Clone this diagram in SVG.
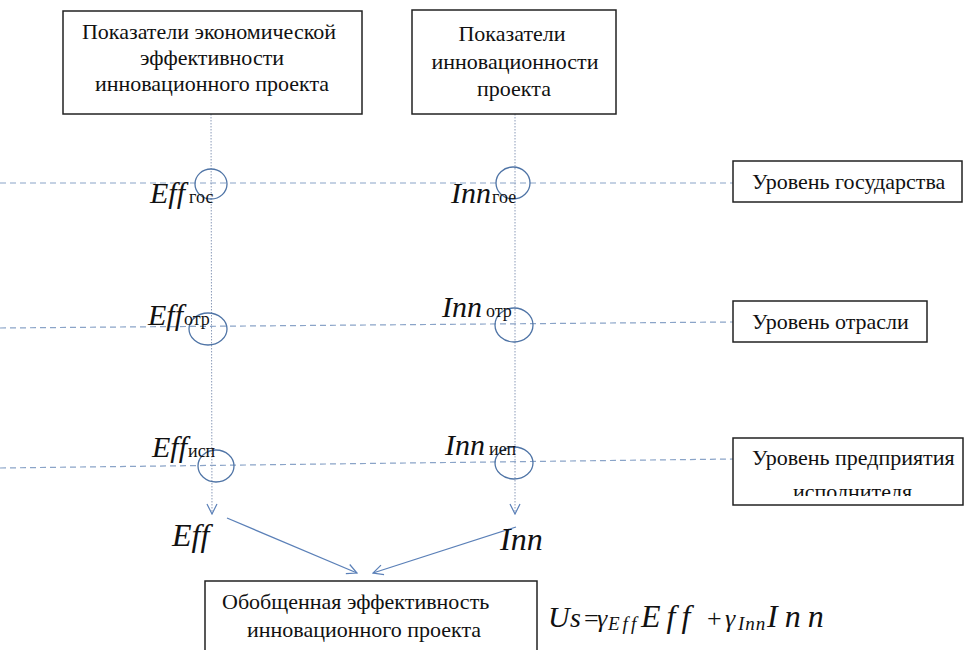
<svg xmlns="http://www.w3.org/2000/svg" width="965" height="650" viewBox="0 0 965 650">
<style>
  .box { fill: #fff; stroke: #222; stroke-width: 1.5; }
  .t { font-size: 22px; fill: #111; }
  .mi { font-style: italic; fill: #111; }
  .sub { font-size: 18px; fill: #111; }
  .dash { stroke: #8aa4c8; stroke-width: 1.2; stroke-dasharray: 6 4; fill: none; }
  .dot { stroke: #8a9ab8; stroke-width: 1; stroke-dasharray: 1.5 1.5; fill: none; }
  .circ { fill: none; stroke: #4f74a6; stroke-width: 1.3; }
  .arr { stroke: #5b80b8; stroke-width: 1.3; fill: none; }
</style>
<defs>
  <marker id="openArrow" viewBox="0 0 12 12" refX="11" refY="6" markerWidth="12" markerHeight="12" markerUnits="userSpaceOnUse" orient="auto">
    <path d="M1,1 L11,6 L1,11" fill="none" stroke="#5b80b8" stroke-width="1.2"/>
  </marker>
  <clipPath id="clipLvl3"><rect x="733" y="438" width="232" height="58"/></clipPath>
</defs>
<rect width="965" height="650" fill="#fff"/>

<g id="connectors">
  <line class="dash" x1="0" y1="183" x2="733" y2="183"/>
  <line class="dash" x1="0" y1="328" x2="733" y2="322"/>
  <line class="dash" x1="0" y1="468" x2="733" y2="459"/>
  <line class="dot" x1="211" y1="114" x2="212" y2="514" marker-end="url(#openArrow)"/>
  <line class="dot" x1="515" y1="114" x2="515" y2="514" marker-end="url(#openArrow)"/>
  <line class="arr" x1="227" y1="518" x2="357" y2="573" marker-end="url(#openArrow)"/>
  <line class="arr" x1="516" y1="527" x2="373" y2="573" marker-end="url(#openArrow)"/>
</g>

<g font-family="Liberation Serif, Times New Roman, serif">
<g id="node-eff-indicators">
  <rect class="box" x="63" y="11" width="299" height="103"/>
  <text class="t" x="209" y="39" text-anchor="middle">Показатели экономической</text>
  <text class="t" x="212" y="65" text-anchor="middle">эффективности</text>
  <text class="t" x="212" y="91" text-anchor="middle">инновационного проекта</text>
</g>

<g id="node-inn-indicators">
  <rect class="box" x="412" y="10" width="204" height="104"/>
  <text class="t" x="512" y="41" text-anchor="middle">Показатели</text>
  <text class="t" x="515" y="69" text-anchor="middle">инновационности</text>
  <text class="t" x="514" y="96" text-anchor="middle">проекта</text>
</g>

<g id="node-level-state">
  <rect class="box" x="733" y="161" width="229" height="41"/>
  <text class="t" x="752" y="189">Уровень государства</text>
</g>

<g id="node-level-industry">
  <rect class="box" x="733" y="301" width="194" height="41"/>
  <text class="t" x="752" y="329">Уровень отрасли</text>
</g>

<g id="node-level-enterprise">
  <rect class="box" x="733" y="438" width="230" height="67"/>
  <text class="t" x="752" y="465">Уровень предприятия</text>
  <text class="t" x="793" y="499" clip-path="url(#clipLvl3)">исполнителя</text>
</g>

<g id="node-generalized">
  <rect class="box" x="205" y="581" width="332" height="80"/>
  <text class="t" x="222" y="609">Обобщенная эффективность</text>
  <text class="t" x="247" y="637">инновационного проекта</text>
</g>

<g id="circles">
  <ellipse class="circ" cx="211" cy="184" rx="16" ry="15"/>
  <ellipse class="circ" cx="513" cy="183" rx="17" ry="16"/>
  <ellipse class="circ" cx="208" cy="329" rx="19" ry="16"/>
  <ellipse class="circ" cx="514" cy="325" rx="19" ry="17"/>
  <ellipse class="circ" cx="216" cy="466" rx="18" ry="16"/>
  <ellipse class="circ" cx="514" cy="463" rx="19" ry="16"/>
</g>

<g id="labels">
  <text class="mi" x="150" y="203" font-size="30">Eff</text>
  <text class="sub" x="189" y="203">гос</text>
  <text class="mi" x="451" y="203" font-size="30">Inn</text>
  <text class="sub" x="492" y="203">гое</text>

  <text class="mi" x="148" y="325" font-size="30">Eff</text>
  <text class="sub" x="184" y="325">отр</text>
  <text class="mi" x="442" y="317" font-size="30">Inn</text>
  <text class="sub" x="486" y="317">отр</text>

  <text class="mi" x="152" y="457" font-size="30">Eff</text>
  <text class="sub" x="188" y="457">исп</text>
  <text class="mi" x="445" y="455" font-size="30">Inn</text>
  <text class="sub" x="489" y="455">иеп</text>

  <text class="mi" x="172" y="546" font-size="32">Eff</text>
  <text class="mi" x="500" y="550" font-size="32">Inn</text>
</g>

<g id="formula">
  <text class="mi" x="548" y="627" font-size="30">U</text>
  <text class="mi" x="570" y="627" font-size="28">s</text>
  <text x="584" y="627" font-size="26" fill="#111">=</text>
  <text class="mi" x="597" y="627" font-size="26">γ</text>
  <text class="mi" x="608" y="630" font-size="19" letter-spacing="3">Eff</text>
  <text class="mi" x="641" y="627" font-size="32" letter-spacing="6">Eff</text>
  <text x="707" y="627" font-size="26" fill="#111">+</text>
  <text class="mi" x="725" y="627" font-size="26">γ</text>
  <text class="mi" x="738" y="630" font-size="19" letter-spacing="1">Inn</text>
  <text class="mi" x="767" y="627" font-size="32" letter-spacing="7">Inn</text>
</g>
</g>
</svg>
